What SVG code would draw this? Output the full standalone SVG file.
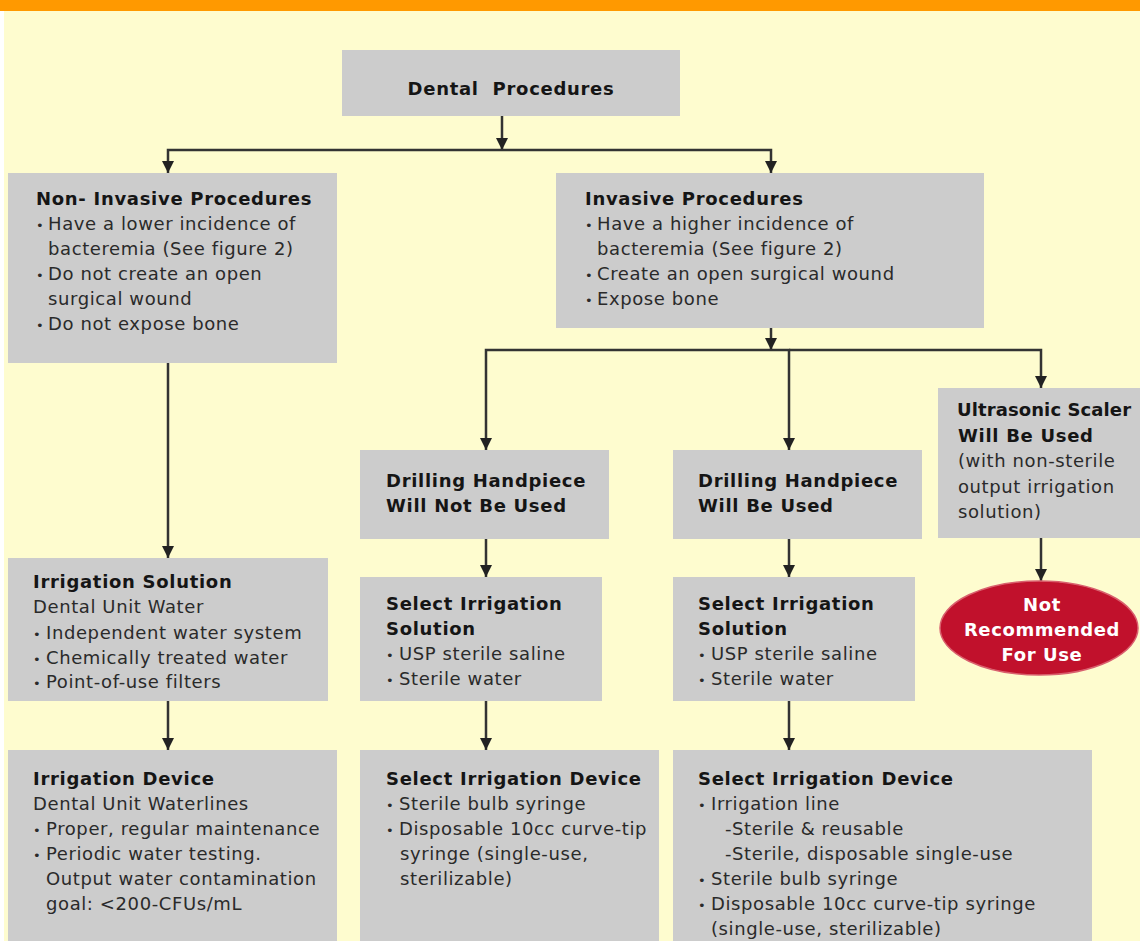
<svg xmlns="http://www.w3.org/2000/svg" width="1140" height="941" viewBox="0 0 1140 941">
<defs>
<marker id="arr" viewBox="0 0 12 12" refX="12" refY="6" markerWidth="12" markerHeight="12" markerUnits="userSpaceOnUse" orient="auto">
<path d="M0,0 L12,6 L0,12 z" fill="#222"/>
</marker>
<style>
.box{fill:#cccccc}
.t{font-family:"DejaVu Sans","Liberation Sans",sans-serif;font-weight:bold;font-size:18px;fill:#151515;letter-spacing:0.7px}
.b{font-family:"DejaVu Sans","Liberation Sans",sans-serif;font-size:18px;fill:#2a2a2a;letter-spacing:0.6px}
.d{font-size:13px}
.w{font-family:"DejaVu Sans","Liberation Sans",sans-serif;font-weight:bold;font-size:18px;fill:#ffffff;letter-spacing:0.6px;text-anchor:middle}
.c{fill:none;stroke:#333;stroke-width:2.5}
</style>
</defs>
<rect x="0" y="0" width="1140" height="941" fill="#fefccf"/>
<rect x="0" y="11" width="4" height="930" fill="#ffffff"/>
<rect x="0" y="0" width="1140" height="11" fill="#ff9900"/>

<g id="connectors">
<path class="c" d="M502,116 V150" marker-end="url(#arr)"/>
<path class="c" d="M502,150 H168 V173" marker-end="url(#arr)"/>
<path class="c" d="M502,150 H771 V173" marker-end="url(#arr)"/>
<path class="c" d="M771,328 V350" marker-end="url(#arr)"/>
<path class="c" d="M771,350 H486 V450" marker-end="url(#arr)"/>
<path class="c" d="M771,350 H789 V450" marker-end="url(#arr)"/>
<path class="c" d="M789,350 H1041 V388" marker-end="url(#arr)"/>
<path class="c" d="M168,363 V558" marker-end="url(#arr)"/>
<path class="c" d="M168,701 V750" marker-end="url(#arr)"/>
<path class="c" d="M486,539 V577" marker-end="url(#arr)"/>
<path class="c" d="M486,701 V750" marker-end="url(#arr)"/>
<path class="c" d="M789,539 V577" marker-end="url(#arr)"/>
<path class="c" d="M789,701 V750" marker-end="url(#arr)"/>
<path class="c" d="M1041,538 V581" marker-end="url(#arr)"/>
</g>

<g id="dental">
<rect class="box" x="342" y="50" width="338" height="66"/>
<text class="t" x="511" y="95" text-anchor="middle" xml:space="preserve">Dental  Procedures</text>
</g>

<g id="noninvasive">
<rect class="box" x="8" y="173" width="329" height="190"/>
<text class="t" x="36" y="205">Non- Invasive Procedures</text>
<text class="b" y="230"><tspan class="d" x="36">•</tspan><tspan x="48">Have a lower incidence of</tspan></text>
<text class="b" x="48" y="255">bacteremia (See figure 2)</text>
<text class="b" y="280"><tspan class="d" x="36">•</tspan><tspan x="48">Do not create an open</tspan></text>
<text class="b" x="48" y="305">surgical wound</text>
<text class="b" y="330"><tspan class="d" x="36">•</tspan><tspan x="48">Do not expose bone</tspan></text>
</g>

<g id="invasive">
<rect class="box" x="556" y="173" width="428" height="155"/>
<text class="t" x="585" y="205">Invasive Procedures</text>
<text class="b" y="230"><tspan class="d" x="585">•</tspan><tspan x="597">Have a higher incidence of</tspan></text>
<text class="b" x="597" y="255">bacteremia (See figure 2)</text>
<text class="b" y="280"><tspan class="d" x="585">•</tspan><tspan x="597">Create an open surgical wound</tspan></text>
<text class="b" y="305"><tspan class="d" x="585">•</tspan><tspan x="597">Expose bone</tspan></text>
</g>

<g id="drill-not">
<rect class="box" x="360" y="450" width="249" height="89"/>
<text class="t" x="386" y="487">Drilling Handpiece</text>
<text class="t" x="386" y="512">Will Not Be Used</text>
</g>

<g id="drill-used">
<rect class="box" x="673" y="450" width="249" height="89"/>
<text class="t" x="698" y="487">Drilling Handpiece</text>
<text class="t" x="698" y="512">Will Be Used</text>
</g>

<g id="ultrasonic">
<rect class="box" x="938" y="388" width="210" height="150"/>
<text class="t" x="957" y="416" style="letter-spacing:0.1px">Ultrasonic Scaler</text>
<text class="t" x="958" y="442">Will Be Used</text>
<text class="b" x="958" y="467">(with non-sterile</text>
<text class="b" x="958" y="493">output irrigation</text>
<text class="b" x="958" y="518">solution)</text>
</g>

<g id="not-recommended">
<ellipse cx="1039" cy="628" rx="99" ry="47" fill="#c1112c" stroke="#d9606e" stroke-width="1.5"/>
<text class="w" x="1042" y="611">Not</text>
<text class="w" x="1042" y="636">Recommended</text>
<text class="w" x="1042" y="661">For Use</text>
</g>

<g id="irrigation-solution">
<rect class="box" x="8" y="558" width="320" height="143"/>
<text class="t" x="33" y="588">Irrigation Solution</text>
<text class="b" x="33" y="613">Dental Unit Water</text>
<text class="b" y="639"><tspan class="d" x="33">•</tspan><tspan x="46">Independent water system</tspan></text>
<text class="b" y="664"><tspan class="d" x="33">•</tspan><tspan x="46">Chemically treated water</tspan></text>
<text class="b" y="688"><tspan class="d" x="33">•</tspan><tspan x="46">Point-of-use filters</tspan></text>
</g>

<g id="select-solution-1">
<rect class="box" x="360" y="577" width="242" height="124"/>
<text class="t" x="386" y="610">Select Irrigation</text>
<text class="t" x="386" y="635">Solution</text>
<text class="b" y="660"><tspan class="d" x="386">•</tspan><tspan x="399">USP sterile saline</tspan></text>
<text class="b" y="685"><tspan class="d" x="386">•</tspan><tspan x="399">Sterile water</tspan></text>
</g>

<g id="select-solution-2">
<rect class="box" x="673" y="577" width="242" height="124"/>
<text class="t" x="698" y="610">Select Irrigation</text>
<text class="t" x="698" y="635">Solution</text>
<text class="b" y="660"><tspan class="d" x="698">•</tspan><tspan x="711">USP sterile saline</tspan></text>
<text class="b" y="685"><tspan class="d" x="698">•</tspan><tspan x="711">Sterile water</tspan></text>
</g>

<g id="irrigation-device">
<rect class="box" x="8" y="750" width="329" height="200"/>
<text class="t" x="33" y="785">Irrigation Device</text>
<text class="b" x="33" y="810">Dental Unit Waterlines</text>
<text class="b" y="835"><tspan class="d" x="33">•</tspan><tspan x="46">Proper, regular maintenance</tspan></text>
<text class="b" y="860"><tspan class="d" x="33">•</tspan><tspan x="46">Periodic water testing.</tspan></text>
<text class="b" x="46" y="885">Output water contamination</text>
<text class="b" x="46" y="910">goal: &lt;200-CFUs/mL</text>
</g>

<g id="select-device-1">
<rect class="box" x="360" y="750" width="299" height="200"/>
<text class="t" x="386" y="785">Select Irrigation Device</text>
<text class="b" y="810"><tspan class="d" x="386">•</tspan><tspan x="399">Sterile bulb syringe</tspan></text>
<text class="b" y="835"><tspan class="d" x="386">•</tspan><tspan x="399">Disposable 10cc curve-tip</tspan></text>
<text class="b" x="400" y="860">syringe (single-use,</text>
<text class="b" x="400" y="885">sterilizable)</text>
</g>

<g id="select-device-2">
<rect class="box" x="673" y="750" width="419" height="200"/>
<text class="t" x="698" y="785">Select Irrigation Device</text>
<text class="b" y="810"><tspan class="d" x="698">•</tspan><tspan x="711">Irrigation line</tspan></text>
<text class="b" x="725" y="835">-Sterile &amp; reusable</text>
<text class="b" x="725" y="860">-Sterile, disposable single-use</text>
<text class="b" y="885"><tspan class="d" x="698">•</tspan><tspan x="711">Sterile bulb syringe</tspan></text>
<text class="b" y="910"><tspan class="d" x="698">•</tspan><tspan x="711">Disposable 10cc curve-tip syringe</tspan></text>
<text class="b" x="711" y="935">(single-use, sterilizable)</text>
</g>
</svg>
